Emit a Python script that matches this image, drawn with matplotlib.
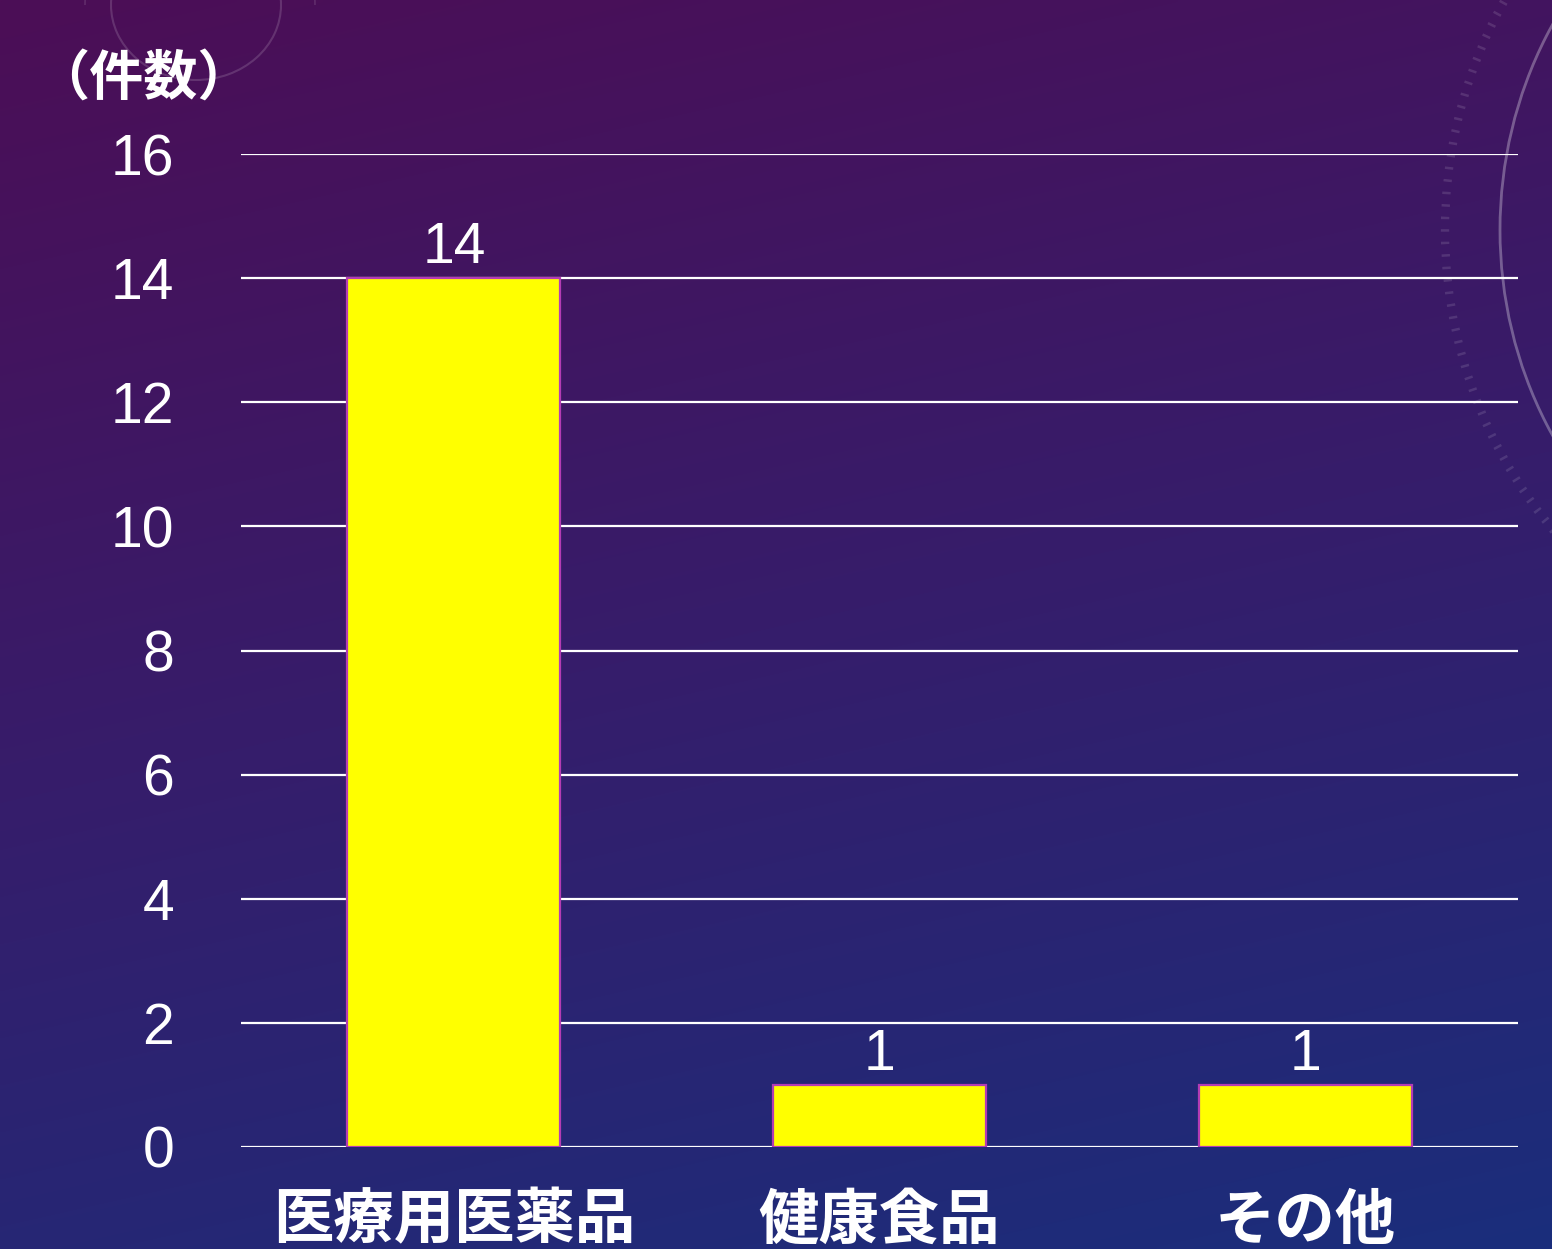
import numpy as np
import matplotlib
matplotlib.use("Agg")
import matplotlib.pyplot as plt
from matplotlib.patches import Arc

categories = ["医療用医薬品", "健康食品", "その他"]
counts = [14, 1, 1]
y_ticks = [0, 2, 4, 6, 8, 10, 12, 14, 16]
y_unit_label = "（件数）"

JP = ["Noto Sans CJK JP", "DejaVu Sans"]
NUM = ["Liberation Sans", "DejaVu Sans"]


def draw_background(fig):
    bg = fig.add_axes([0, 0, 1, 1], zorder=-10)
    h, w = 300, 373
    yy, xx = np.mgrid[0:h, 0:w]
    t = np.clip(0.78 * yy / h + 0.22 * xx / w, 0, 1)
    top = np.array([0x4c, 0x0e, 0x56]) / 255
    mid = np.array([0x36, 0x1d, 0x6b]) / 255
    bot = np.array([0x1a, 0x2e, 0x7c]) / 255
    t3 = t[..., None]
    img = np.where(t3 < 0.5, top + (mid - top) * (t3 / 0.5),
                   mid + (bot - mid) * ((t3 - 0.5) / 0.5))
    bg.imshow(img, aspect="auto", extent=[0, 1552, 1249, 0], interpolation="bilinear")
    bg.set_xlim(0, 1552)
    bg.set_ylim(1249, 0)
    # faint decorative arcs
    bg.add_patch(Arc((196, 5), 170, 150, theta1=0, theta2=360, color="white", alpha=0.15, lw=1.5))
    bg.add_patch(Arc((200, 5), 230, 210, theta1=-180, theta2=0, color="white", alpha=0.12, lw=1.2))
    bg.add_patch(Arc((1870, 230), 740, 800, theta1=120, theta2=240, color="white", alpha=0.3, lw=2))
    bg.add_patch(Arc((1870, 230), 850, 900, theta1=125, theta2=235, color="white", alpha=0.12, lw=6, ls=(0, (0.3, 1.2))))
    bg.axis("off")


def chart_counts():
    fig = plt.figure(figsize=(15.52, 12.49), dpi=100)
    draw_background(fig)

    ax = fig.add_axes([241 / 1552, 102 / 1249, 1277 / 1552, 993 / 1249])
    ax.patch.set_alpha(0)
    x = np.arange(len(categories))
    ax.bar(x, counts, width=0.5, color="#ffff00", edgecolor="#b43cb4", linewidth=1.6, zorder=3)

    for xi, c in zip(x, counts):
        ax.text(xi, c + 0.05, str(c), ha="center", va="bottom", fontsize=41,
                color="white", family=NUM)

    ax.set_xlim(-0.5, 2.5)
    ax.set_ylim(0, 16)
    ax.set_yticks(y_ticks)
    ax.set_yticklabels([str(v) for v in y_ticks], fontsize=41, color="white", family=NUM)
    ax.set_xticks(x)
    ax.set_xticklabels(categories, fontsize=43.5, color="white", family=JP, fontweight="bold")
    ax.tick_params(axis="y", length=0, pad=48)
    ax.tick_params(axis="x", length=0, pad=31)
    ax.grid(axis="y", color="white", linewidth=1.6, zorder=1)
    ax.set_axisbelow(True)
    for s in ax.spines.values():
        s.set_visible(False)

    fig.text(143 / 1552, 1 - 80 / 1249, y_unit_label, ha="center", va="center",
             fontsize=39, color="white", family=JP, fontweight="bold")

    plt.savefig("out.png", dpi=100)
    plt.clf()


def main():
    chart_counts()


main()
